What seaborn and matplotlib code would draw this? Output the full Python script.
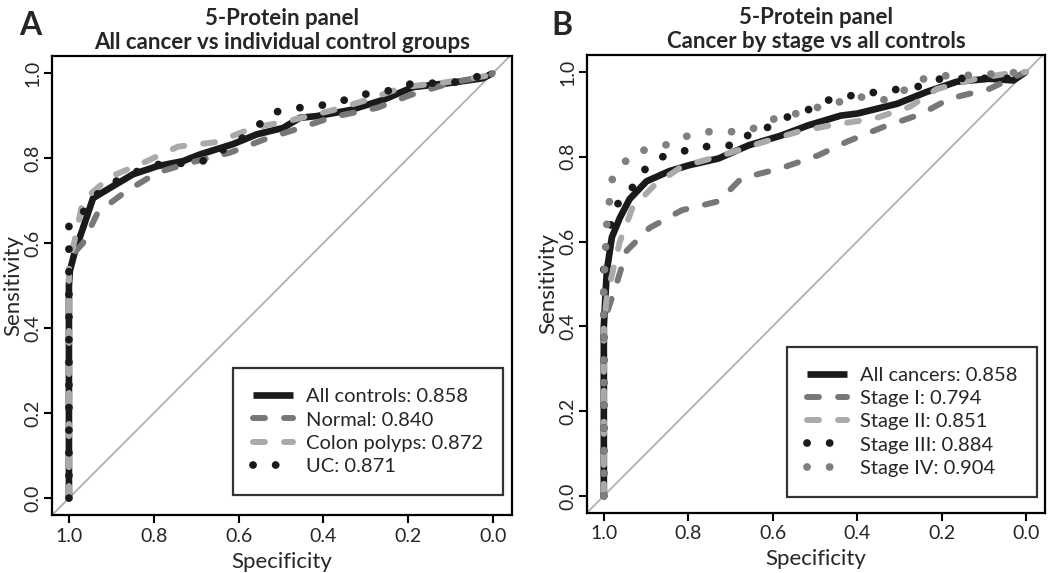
import numpy as np
import pandas as pd
import seaborn as sns
import matplotlib.pyplot as plt

sns.set_style("white")
plt.rcParams['font.family'] = ['Lato', 'DejaVu Sans']

# ---- Panel A: all cancer vs individual control groups ----
a_all_spec = [1.0, 1.0, 0.998, 0.986, 0.967, 0.943, 0.903, 0.849, 0.792, 0.731, 0.69, 0.613, 0.557,
              0.495, 0.455, 0.415, 0.337, 0.259, 0.189, 0.101, 0.024, 0.0]
a_all_sens = [0.0, 0.50, 0.534, 0.58, 0.635, 0.706, 0.73, 0.762, 0.781, 0.793, 0.809, 0.833, 0.856,
              0.871, 0.895, 0.899, 0.913, 0.937, 0.967, 0.977, 0.988, 1.0]

a_norm_spec = [1.0, 1.0, 0.985, 0.967, 0.932, 0.868, 0.792, 0.715, 0.62, 0.542, 0.455, 0.377, 0.274,
               0.196, 0.10, 0.007, 0.0]
a_norm_sens = [0.0, 0.55, 0.58, 0.60, 0.672, 0.72, 0.766, 0.789, 0.813, 0.843, 0.871, 0.897, 0.918,
               0.948, 0.977, 0.995, 1.0]

a_poly_spec = [1.0, 1.0, 0.986, 0.967, 0.903, 0.825, 0.743, 0.651, 0.566, 0.472, 0.377, 0.297, 0.212,
               0.108, 0.007, 0.0]
a_poly_sens = [0.0, 0.55, 0.609, 0.70, 0.756, 0.789, 0.827, 0.838, 0.871, 0.89, 0.913, 0.937, 0.967,
               0.979, 0.995, 1.0]

a_uc_spec = [1.0, 1.0, 0.967, 0.94, 0.90, 0.85, 0.79, 0.69, 0.60, 0.55, 0.526, 0.474, 0.425, 0.373,
             0.333, 0.288, 0.236, 0.196, 0.085, 0.005, 0.0]
a_uc_sens = [0.0, 0.649, 0.672, 0.71, 0.74, 0.765, 0.785, 0.79, 0.84, 0.88, 0.906, 0.916, 0.923, 0.927,
             0.944, 0.953, 0.96, 0.974, 0.979, 1.0, 1.0]

a_labels = ["All controls: 0.858", "Normal: 0.840", "Colon polyps: 0.872", "UC: 0.871"]

# ---- Panel B: cancer by stage vs all controls ----
b_all_spec = [1.0, 1.0, 0.993, 0.981, 0.962, 0.939, 0.899, 0.845, 0.798, 0.728, 0.657, 0.58, 0.516,
              0.439, 0.399, 0.305, 0.235, 0.164, 0.087, 0.03, 0.0]
b_all_sens = [0.0, 0.40, 0.53, 0.61, 0.656, 0.70, 0.742, 0.766, 0.78, 0.796, 0.827, 0.85, 0.874,
              0.897, 0.902, 0.925, 0.953, 0.977, 0.984, 0.98, 1.0]

b_s1_spec = [1.0, 1.0, 0.97, 0.946, 0.892, 0.815, 0.728, 0.674, 0.58, 0.493, 0.423, 0.336, 0.25,
             0.181, 0.087, 0.023, 0.0]
b_s1_sens = [0.0, 0.41, 0.50, 0.578, 0.632, 0.674, 0.695, 0.749, 0.773, 0.803, 0.836, 0.871, 0.90,
             0.937, 0.96, 0.99, 1.0]

b_s2_spec = [1.0, 1.0, 0.993, 0.962, 0.932, 0.88, 0.815, 0.72, 0.634, 0.54, 0.453, 0.359, 0.275,
             0.211, 0.117, 0.023, 0.0]
b_s2_sens = [0.0, 0.40, 0.47, 0.60, 0.68, 0.733, 0.777, 0.803, 0.831, 0.859, 0.876, 0.89, 0.918,
             0.96, 0.984, 1.0, 1.0]

b_s3_spec = [1.0, 1.0, 0.98, 0.955, 0.92, 0.899, 0.869, 0.826, 0.779, 0.723, 0.674, 0.65, 0.603,
             0.563, 0.523, 0.486, 0.441, 0.394, 0.347, 0.298, 0.246, 0.20, 0.03, 0.0]
b_s3_sens = [0.0, 0.55, 0.66, 0.714, 0.735, 0.777, 0.798, 0.808, 0.824, 0.824, 0.831, 0.862, 0.871,
             0.895, 0.906, 0.93, 0.939, 0.948, 0.953, 0.96, 0.967, 0.985, 0.985, 1.0]

b_s4_spec = [1.0, 1.0, 0.993, 0.981, 0.958, 0.934, 0.887, 0.84, 0.805, 0.758, 0.70, 0.653, 0.617,
             0.568, 0.481, 0.439, 0.392, 0.333, 0.291, 0.258, 0.216, 0.157, 0.0]
b_s4_sens = [0.0, 0.50, 0.64, 0.745, 0.777, 0.808, 0.82, 0.831, 0.848, 0.859, 0.859, 0.862, 0.885,
             0.895, 0.92, 0.93, 0.941, 0.934, 0.955, 0.979, 0.991, 0.991, 1.0]

b_labels = ["All cancers: 0.858", "Stage I: 0.794", "Stage II: 0.851", "Stage III: 0.884", "Stage IV: 0.904"]

# line styles: (color, linestyle, linewidth)
solid = ("#1a1a1a", "-", 4.8)
dark_dash = ("#777777", (0, (2.0, 3.2)), 4.3)
light_dash = ("#aaaaaa", (0, (2.0, 3.2)), 4.3)
black_dot = ("#1a1a1a", (0, (0.01, 2.9)), 5.6)
grey_dot = ("#808080", (0, (0.01, 2.9)), 5.6)

fig, axes = plt.subplots(1, 2, figsize=(10.5, 5.73), dpi=100)
axes[0].set_position([0.0495, 0.101, 0.4381, 0.801])
axes[1].set_position([0.559, 0.105, 0.4362, 0.799])

panels = [
    (axes[0], [(a_all_spec, a_all_sens), (a_norm_spec, a_norm_sens), (a_poly_spec, a_poly_sens),
               (a_uc_spec, a_uc_sens)], a_labels, [solid, dark_dash, light_dash, black_dot],
     "5-Protein panel\nAll cancer vs individual control groups", "A", 0.018, (0.98, 0.044)),
    (axes[1], [(b_all_spec, b_all_sens), (b_s1_spec, b_s1_sens), (b_s2_spec, b_s2_sens),
               (b_s3_spec, b_s3_sens), (b_s4_spec, b_s4_sens)], b_labels,
     [solid, dark_dash, light_dash, black_dot, grey_dot],
     "5-Protein panel\nCancer by stage vs all controls", "B", 0.525, (0.983, 0.035)),
]

ticks = np.arange(0, 1.01, 0.2)
tick_labels = [f"{v:.1f}" for v in ticks]

for ax, curves, labels, styles, title, letter, lx, anchor in panels:
    ax.axline((1, 0), (0, 1), color="#b0b0b0", lw=1.3, zorder=1)
    for (sp, se), lab, (col, ls, lw) in zip(curves, labels, styles):
        df = pd.DataFrame({"spec": sp, "sens": se})
        sns.lineplot(data=df, x="spec", y="sens", sort=False, estimator=None, ax=ax,
                     color=col, linestyle=ls, lw=lw, label=lab,
                     dash_capstyle="round", solid_capstyle="butt", solid_joinstyle="round")
    ax.set_xlim(1.04, -0.045)
    ax.set_ylim(-0.04, 1.04)
    ax.set_xticks(ticks)
    ax.set_yticks(ticks)
    ax.set_xticklabels(tick_labels)
    ax.set_yticklabels(tick_labels, rotation=90, va="center")
    ax.tick_params(direction="out", length=6, width=1.5, labelsize=14, color="black",
                   bottom=True, left=True)
    ax.tick_params(axis="y", pad=1.5)
    ax.tick_params(axis="x", pad=3)
    for s in ax.spines.values():
        s.set_color("black")
        s.set_linewidth(1.6)
    ax.set_xlabel("Specificity", fontsize=16, labelpad=5)
    ax.set_ylabel("Sensitivity", fontsize=16, labelpad=1)
    ax.set_title(title, fontsize=16, fontweight="bold", linespacing=1.18, pad=5)
    leg = ax.legend(loc="lower right", bbox_to_anchor=anchor, fontsize=14.5, frameon=True,
                    fancybox=False, handlelength=2.0, handletextpad=0.6, labelspacing=0.3,
                    borderpad=1.0, borderaxespad=0)
    leg.get_frame().set_edgecolor("black")
    leg.get_frame().set_linewidth(1.6)
    fig.text(lx, 0.955, letter, fontsize=23, fontweight="bold", va="center")

plt.savefig("out.png", dpi=100)
